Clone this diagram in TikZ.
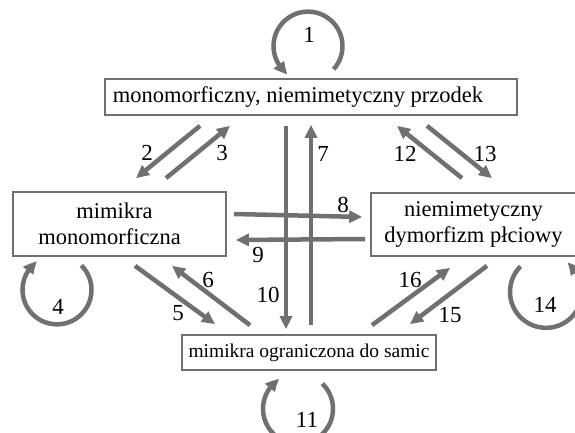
\documentclass[tikz,border=0pt]{standalone}
\usepackage{fontspec}
\setmainfont{Liberation Serif}
\usepackage{xcolor}
\usetikzlibrary{arrows.meta,bending}
\definecolor{linegray}{RGB}{112,112,112}

\begin{document}
\begin{tikzpicture}[x=1pt,y=1pt,
  box/.style={draw=linegray, line width=1.7pt, inner sep=0pt, align=center,
    font=\fontsize{22.5}{26.5}\selectfont},
  arr/.style={draw=linegray, line width=4.5pt, -{Triangle[length=13pt,width=12pt]}},
  looparr/.style={draw=linegray, line width=4.5pt, -{Triangle[length=13pt,width=12pt,bend]}},
  num/.style={font=\fontsize{23}{23}\selectfont, inner sep=0pt}]
  \useasboundingbox (0,0) rectangle (575,-433);

  % States
  \node[box, minimum width=412, minimum height=36] (top) at (311,-97)
    {monomorficzny, niemimetyczny przodek\rule{26pt}{0pt}};
  \node[box, minimum width=213, minimum height=64] (left) at (119.5,-224)
    {mimikra\rule{10pt}{0pt}\\monomorficzna\rule{20pt}{0pt}};
  \node[box, minimum width=205, minimum height=63] (right) at (473.5,-224.5)
    {niemimetyczny\\dymorfizm płciowy};
  \node[box, minimum width=254, minimum height=35,
    font=\fontsize{19.5}{23}\selectfont] (bottom) at (309,-352.5)
    {mimikra ograniczona do samic};

  % Self loops
  \draw[looparr] ([shift={(-3,32)}]top.north) ++(-42:34.5)
    arc[start angle=-42, end angle=234, radius=34.5];
  \draw[looparr] ([shift={(-62.5,-33)}]left.south) ++(45:34.5)
    arc[start angle=45, end angle=-235, radius=34.5];
  \draw[looparr] ([shift={(-11,-38)}]bottom.south) ++(46:35)
    arc[start angle=46, end angle=-238, radius=35];
  \draw[looparr] ([shift={(72.5,-35)}]right.south) ++(135:36)
    arc[start angle=135, end angle=414, radius=36];

  % Transitions from the ancestor
  \draw[arr] ([shift={(-111,-10)}]top.south) -- ([shift={(16.5,13)}]left.north);
  \draw[arr] ([shift={(46.5,13)}]left.north) -- ([shift={(-81,-10)}]top.south);
  \draw[arr] ([shift={(-11.5,14)}]right.north) -- ([shift={(86,-10)}]top.south);
  \draw[arr] ([shift={(116,-10)}]top.south) -- ([shift={(18.5,14)}]right.north);
  \draw[arr] ([shift={(-25,-10)}]top.south) -- ([shift={(-23,5)}]bottom.north);
  \draw[arr] ([shift={(2,9)}]bottom.north) -- ([shift={(0,-9)}]top.south);

  % Transitions between the derived states
  \draw[arr] ([shift={(7,10)}]left.east) -- ([shift={(-8,7.5)}]right.west);
  \draw[arr] ([shift={(-5,-14.5)}]right.west) -- ([shift={(9,-16)}]left.east);
  \draw[arr] ([shift={(15.5,-9)}]left.south) -- ([shift={(-94,10)}]bottom.north);
  \draw[arr] ([shift={(-59,9)}]bottom.north) -- ([shift={(52.5,-9)}]left.south);
  \draw[arr] ([shift={(63,9)}]bottom.north) -- ([shift={(-23.5,-11)}]right.south);
  \draw[arr] ([shift={(13.5,-9)}]right.south) -- ([shift={(101,10)}]bottom.north);

  % Labels
  \node[num] (n1) at (309,-35) {1};
  \node[num] (n2) at (147,-153) {2};
  \node[num] (n3) at (222,-153) {3};
  \node[num] (n4) at (58,-307) {4};
  \node[num] (n5) at (178,-313) {5};
  \node[num] (n6) at (208,-280) {6};
  \node[num] (n7) at (323,-154) {7};
  \node[num] (n8) at (343,-205) {8};
  \node[num] (n9) at (258,-255) {9};
  \node[num] (n10) at (268,-295) {10};
  \node[num] (n11) at (307,-420) {11};
  \node[num] (n12) at (405,-154) {12};
  \node[num] (n13) at (485,-154) {13};
  \node[num] (n14) at (545,-305) {14};
  \node[num] (n15) at (450,-315) {15};
  \node[num] (n16) at (410,-280) {16};
\end{tikzpicture}
\end{document}
